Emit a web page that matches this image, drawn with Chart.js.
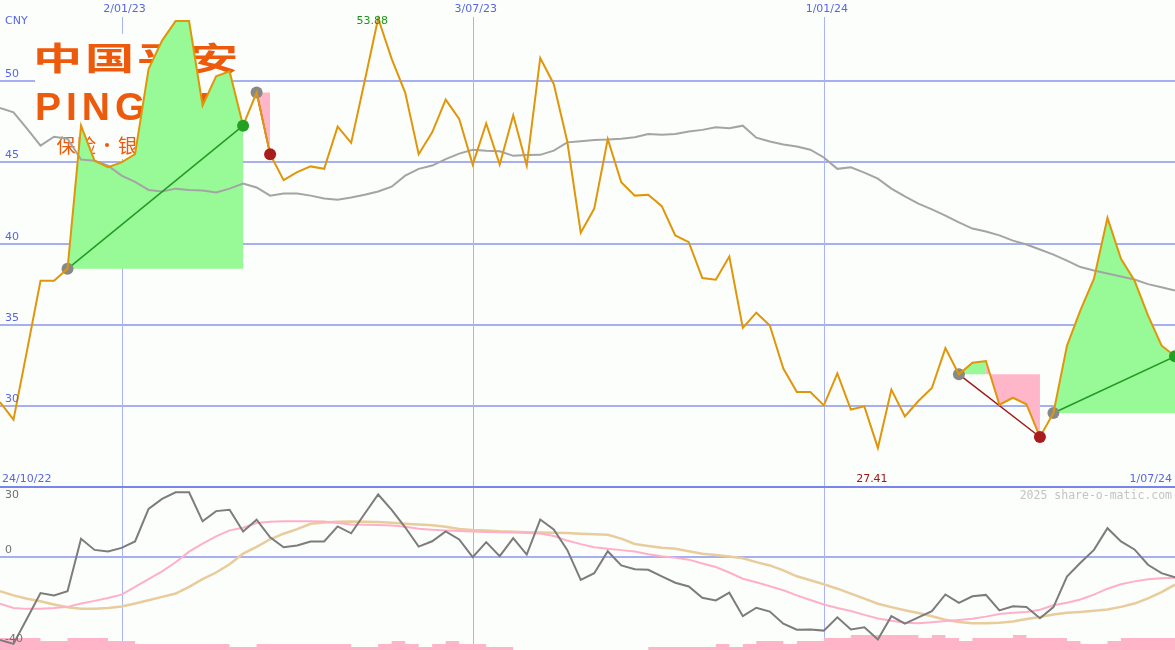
<!DOCTYPE html>
<html><head><meta charset="utf-8">
<script src="https://cdn.jsdelivr.net/npm/chart.js@4.4.1/dist/chart.umd.min.js"></script>
<style>
html,body{margin:0;padding:0;background:#fcfefb;}
#wrap{position:relative;width:1175px;height:650px;overflow:hidden;}
canvas{position:absolute;left:0;}
#main{top:0}
#lower{top:488px}
</style></head><body>
<div id="wrap"><canvas id="main" width="1175" height="488"></canvas><canvas id="lower" width="1175" height="162"></canvas></div>
<script>
// ---- data (weekly points, index 0 = first week) ----
const unitLabel = 'CNY';
const startLabel = '24/10/22';
const endLabel = '1/07/24';
const gridDates = ['2/01/23', '3/07/23', '1/01/24'];
const gridIdx = [9, 35, 61];
const yTicks = [30, 35, 40, 45, 50];
const lowerTicks = [30, 0, -40];
const lowerGrid = [0];

const price = [30.23,29.15,33.4,37.7,37.7,38.44,47.26,45.1,44.7,45.0,
  45.5,50.75,52.5,53.7,53.7,48.5,50.3,50.6,47.26,49.3,
  45.5,43.9,44.4,44.75,44.6,47.2,46.2,50.0,53.88,51.37,
  49.3,45.5,46.85,48.86,47.67,44.86,47.4,44.86,47.9,44.8,
  51.43,49.83,46.3,40.67,42.15,46.44,43.77,42.95,43.0,42.3,
  40.5,40.08,37.87,37.77,39.2,34.8,35.74,34.95,32.3,30.85,
  30.85,30.03,32.0,29.77,29.97,27.41,31.0,29.35,30.3,31.1,
  33.56,31.94,32.66,32.76,30.07,30.5,30.1,28.08,29.56,33.7,
  35.9,37.83,41.58,39.06,37.72,35.57,33.72,33.05];

const movingAvg = [48.35,48.08,47.08,46.03,46.58,46.46,45.17,45.1,44.8,44.18,
  43.8,43.3,43.2,43.38,43.3,43.26,43.14,43.38,43.7,43.45,
  42.95,43.08,43.08,42.95,42.77,42.7,42.83,43.0,43.2,43.5,
  44.18,44.6,44.8,45.2,45.54,45.78,45.72,45.68,45.4,45.45,
  45.46,45.72,46.23,46.3,46.37,46.4,46.46,46.54,46.74,46.7,
  46.75,46.9,47.0,47.16,47.1,47.26,46.52,46.28,46.1,45.97,
  45.78,45.3,44.6,44.7,44.37,44.0,43.38,42.9,42.46,42.1,
  41.72,41.3,40.92,40.74,40.5,40.18,39.94,39.63,39.32,38.95,
  38.55,38.34,38.15,37.97,37.78,37.5,37.3,37.1];

const oscillator = [-37.4,-39.2,-27.7,-16.3,-17.4,-15.4,8.2,3.2,2.5,4.1,
  7.0,21.7,26.2,29.2,29.2,16.1,20.7,21.3,11.5,16.8,
  8.9,4.4,5.2,7.0,7.0,13.8,10.7,19.5,28.2,21.3,
  13.4,4.7,7.1,11.5,7.9,-0.1,6.7,0.4,8.5,1.1,
  16.9,12.4,3.2,-10.3,-7.3,2.6,-3.8,-5.5,-5.8,-8.7,
  -11.6,-13.3,-18.4,-19.6,-16.1,-26.7,-22.9,-24.6,-30.1,-32.8,
  -32.7,-33.2,-27.2,-32.7,-31.7,-37.2,-26.7,-30.1,-27.2,-24.4,
  -16.9,-20.7,-17.7,-17.1,-24.1,-22.2,-22.6,-27.6,-22.6,-8.8,
  -2.6,3.2,13.0,7.0,3.4,-3.5,-7.3,-9.1];

const oscFast = [-21.1,-23.0,-23.4,-23.3,-23.0,-22.5,-21.0,-19.8,-18.5,-17.0,
  -13.5,-10.0,-6.5,-2.4,2.4,6.0,9.3,12.0,13.2,15.3,
  15.9,16.1,16.1,16.1,16.0,15.3,14.7,14.5,14.4,14.2,
  13.6,12.7,12.3,12.0,11.7,11.5,11.3,11.2,11.0,10.8,
  10.6,9.5,7.4,5.8,4.4,3.7,3.1,2.5,1.2,0.3,
  -0.4,-1.2,-2.9,-4.5,-7.0,-9.8,-11.4,-13.2,-15.0,-17.3,
  -19.4,-21.4,-23.0,-24.4,-26.1,-27.7,-28.8,-29.7,-29.9,-29.4,
  -28.9,-28.4,-27.9,-26.9,-25.7,-25.1,-24.8,-23.8,-21.8,-20.6,
  -19.2,-17.0,-14.3,-12.3,-11.0,-10.0,-9.6,-9.4];

const oscSlow = [-15.4,-17.3,-18.8,-20.0,-21.4,-22.7,-23.3,-23.3,-23.0,-22.3,
  -21.0,-19.5,-18.0,-16.5,-13.5,-10.0,-7.0,-3.3,1.5,4.6,
  8.0,10.5,12.6,15.0,15.6,15.9,16.0,15.9,15.8,15.4,
  15.0,14.7,14.3,13.6,12.6,12.2,12.0,11.6,11.4,11.2,
  11.0,10.9,10.8,10.5,10.3,10.0,8.3,5.9,5.0,4.2,
  3.7,2.6,1.5,0.9,0.2,-0.6,-2.3,-3.8,-6.0,-8.7,
  -10.5,-12.3,-14.3,-16.5,-18.8,-21.1,-22.6,-24.0,-25.3,-26.7,
  -28.3,-29.3,-29.9,-29.9,-29.7,-29.1,-28.0,-27.1,-25.9,-25.2,
  -24.8,-24.3,-23.7,-22.5,-21.0,-18.7,-15.8,-12.5];

const volume = [5,4,4,4,3,3,4,4,4,3,
  3,2,2,2,2,2,2,2,1,1,
  2,2,2,2,2,2,2,1,1,2,
  3,2,1,2,3,2,2,1,1,0,
  0,0,0,0,0,0,0,0,0,1,
  1,1,1,1,2,1,2,3,3,2,
  3,3,4,4,5,5,5,5,5,4,
  5,4,3,4,4,4,5,4,4,4,
  3,2,2,3,4,4,4,4];

// swing pivots
const pivotStart = [5, 19, 71, 78];     // grey dots
const pivotEnd = [18, 20, 77, 87];
const pivotUp = [18, 87];               // green dots
const pivotDown = [20, 77];             // red dots
const fillFrom = [5, 19, 71, 73, 78];
const fillTo = [18, 20, 73, 77, 87];
const fillBase = [5, 19, 71, 71, 78];
const fillRise = [true, false, true, false, true];

// ---- styles ----
const BG = '#fcfefb';
const GRID_H = '#a6b0f0';
const GRID_V = '#a8b4f6';
const AXIS = '#7886ec';
const BLUE = '#5866e6';
const FONT = '11px "DejaVu Sans"';
const LOGO = '#ee5a0c';

const xy = (arr) => arr.map((v, i) => ({x: i, y: v}));

function drawLogo(ctx) {
  ctx.save();
  ctx.fillStyle = BG;
  ctx.fillRect(35, 34, 198, 125);
  ctx.fillStyle = LOGO;
  ctx.textAlign = 'left';
  ctx.textBaseline = 'alphabetic';
  ctx.font = 'bold 36px "Noto Sans CJK SC"';
  const m = ctx.measureText('中');
  const inkW = m.actualBoundingBoxLeft + m.actualBoundingBoxRight;
  const inkH = m.actualBoundingBoxAscent + m.actualBoundingBoxDescent;
  const sx = 41 / inkW, sy = 32 / inkH;
  ['中', '国', '平', '安'].forEach((c, k) => {
    ctx.save();
    ctx.translate(37 + 52 * k, 41.7);
    ctx.scale(sx, sy);
    ctx.fillText(c, m.actualBoundingBoxLeft, m.actualBoundingBoxAscent);
    ctx.restore();
  });
  ctx.font = 'bold 39px "Liberation Sans"';
  ctx.letterSpacing = '5px';
  const pm = ctx.measureText('P');
  ctx.fillText('PING AN', 37 + pm.actualBoundingBoxLeft, 120);
  ctx.letterSpacing = '0px';
  ctx.font = '19px "Noto Sans CJK SC"';
  ctx.textBaseline = 'middle';
  ctx.textAlign = 'center';
  ['保', '险', '·', '银', '行', '·', '投', '资'].forEach((c, k) => ctx.fillText(c, 66 + 20.5 * k, 146));
  ctx.restore();
}

const mainDeco = {
  id: 'mainDeco',
  beforeDraw(chart) {
    const ctx = chart.ctx;
    ctx.save(); ctx.fillStyle = BG; ctx.fillRect(0, 0, chart.width, chart.height); ctx.restore();
  },
  beforeDatasetsDraw(chart) {
    const {ctx, scales: {x, y}} = chart;
    ctx.save();
    ctx.fillStyle = GRID_H;
    yTicks.forEach(v => { const py = Math.round(y.getPixelForValue(v)); ctx.fillRect(0, py - 1, chart.width, 2); });
    ctx.fillStyle = GRID_V;
    gridIdx.forEach(i => { const px = Math.round(x.getPixelForValue(i)); ctx.fillRect(px, 17, 1, chart.height - 17); });
    ctx.fillStyle = AXIS;
    ctx.fillRect(0, chart.height - 2, chart.width, 2);
    ctx.restore();
    drawLogo(ctx);
  },
  afterDraw(chart) {
    const {ctx, scales: {x, y}} = chart;
    ctx.save();
    ctx.font = FONT;
    ctx.fillStyle = BLUE;
    ctx.textAlign = 'left';
    ctx.textBaseline = 'bottom';
    yTicks.forEach(v => ctx.fillText(String(v), 5, Math.round(y.getPixelForValue(v)) - 1));
    ctx.textBaseline = 'middle';
    ctx.fillText(unitLabel, 5, 21);
    ctx.textAlign = 'center';
    gridIdx.forEach((i, k) => ctx.fillText(gridDates[k], x.getPixelForValue(i) + 3, 9));
    ctx.textAlign = 'left';
    ctx.fillText(startLabel, 2, chart.height - 9);
    ctx.textAlign = 'right';
    ctx.fillText(endLabel, chart.width - 3, chart.height - 9);
    const hi = price.indexOf(Math.max(...price));
    const lo = price.indexOf(Math.min(...price));
    ctx.textAlign = 'center';
    ctx.fillStyle = '#1a961a';
    ctx.fillText(price[hi].toFixed(2), x.getPixelForValue(hi) - 6, 21);
    ctx.fillStyle = '#a01818';
    ctx.fillText(price[lo].toFixed(2), x.getPixelForValue(lo) - 6, chart.height - 9);
    ctx.restore();
  }
};

const lowerDeco = {
  id: 'lowerDeco',
  beforeDraw(chart) {
    const ctx = chart.ctx;
    ctx.save(); ctx.fillStyle = BG; ctx.fillRect(0, 0, chart.width, chart.height); ctx.restore();
  },
  beforeDatasetsDraw(chart) {
    const {ctx, scales: {x, y}} = chart;
    ctx.save();
    ctx.fillStyle = GRID_H;
    lowerGrid.forEach(v => { const py = Math.round(y.getPixelForValue(v)); ctx.fillRect(0, py - 1, chart.width, 2); });
    ctx.fillStyle = GRID_V;
    gridIdx.forEach(i => { const px = Math.round(x.getPixelForValue(i)); ctx.fillRect(px, 0, 1, chart.height); });
    ctx.restore();
  },
  afterDraw(chart) {
    const {ctx, scales: {y}} = chart;
    ctx.save();
    ctx.font = FONT;
    ctx.fillStyle = '#707070';
    ctx.textAlign = 'left';
    ctx.textBaseline = 'bottom';
    lowerTicks.forEach(v => ctx.fillText(String(v), 5, Math.max(Math.round(y.getPixelForValue(v)) - 1, 13)));
    ctx.font = '11.5px "DejaVu Sans Mono"';
    ctx.fillStyle = '#c4c4c4';
    ctx.textAlign = 'right';
    ctx.textBaseline = 'middle';
    ctx.fillText('2025 share-o-matic.com', chart.width - 3, 8);
    ctx.restore();
  }
};

const common = {
  responsive: false, animation: false, devicePixelRatio: 1, events: [],
  layout: {padding: 0, autoPadding: false},
  plugins: {legend: {display: false}, tooltip: {enabled: false}},
  elements: {line: {tension: 0}, point: {radius: 0}}
};

// ---- main chart datasets ----
const mainSets = [];
mainSets.push({data: pivotUp.map(i => ({x: i, y: price[i]})), showLine: false, pointRadius: 6, pointBackgroundColor: '#22a022', pointBorderWidth: 0, order: 0});
mainSets.push({data: pivotDown.map(i => ({x: i, y: price[i]})), showLine: false, pointRadius: 6, pointBackgroundColor: '#a81c1c', pointBorderWidth: 0, order: 0});
mainSets.push({data: xy(price), borderColor: '#e0960a', borderWidth: 2, fill: false, order: 1});
mainSets.push({data: pivotStart.map(i => ({x: i, y: price[i]})), showLine: false, pointRadius: 6, pointBackgroundColor: '#888888', pointBorderWidth: 0, order: 2});
pivotStart.forEach((s, k) => {
  const e = pivotEnd[k];
  const up = price[e] > price[s];
  mainSets.push({data: [{x: s, y: price[s]}, {x: e, y: price[e]}], borderColor: up ? '#229922' : '#a01c1c', borderWidth: 1.5, fill: false, order: 2.5});
});
mainSets.push({data: xy(movingAvg), borderColor: '#a4a4a4', borderWidth: 2, fill: false, order: 3});
fillFrom.forEach((f, k) => {
  mainSets.push({
    data: price.map((v, i) => ({x: i, y: (i >= f && i <= fillTo[k]) ? v : null})),
    borderColor: 'rgba(0,0,0,0)', borderWidth: 0, spanGaps: false,
    fill: {value: price[fillBase[k]]},
    backgroundColor: fillRise[k] ? '#98fa96' : '#ffb6c8',
    order: 5
  });
});

new Chart(document.getElementById('main'), {
  type: 'line',
  data: {datasets: mainSets},
  options: Object.assign({}, common, {
    scales: {
      x: {type: 'linear', min: 0, max: 87, display: false},
      y: {type: 'linear', min: 24.94, max: 55, display: false}
    }
  }),
  plugins: [mainDeco]
});

// ---- lower chart ----
new Chart(document.getElementById('lower'), {
  type: 'line',
  data: {datasets: [
    {data: xy(oscillator), borderColor: '#7c7c7c', borderWidth: 2, fill: false, order: 0},
    {data: xy(oscFast), borderColor: '#ffb0c8', borderWidth: 2, fill: false, order: 1},
    {data: xy(oscSlow), borderColor: '#e8cc9c', borderWidth: 2.5, fill: false, order: 2},
    {data: xy(volume), yAxisID: 'yv', stepped: 'after', borderColor: 'rgba(0,0,0,0)', borderWidth: 0, fill: 'origin', backgroundColor: '#ffb4c8', order: 3}
  ]},
  options: Object.assign({}, common, {
    scales: {
      x: {type: 'linear', min: 0, max: 87, display: false},
      y: {type: 'linear', min: -41.95, max: 31.12, display: false},
      yv: {type: 'linear', min: 0, max: 54, display: false}
    }
  }),
  plugins: [lowerDeco]
});
</script>
</body></html>
